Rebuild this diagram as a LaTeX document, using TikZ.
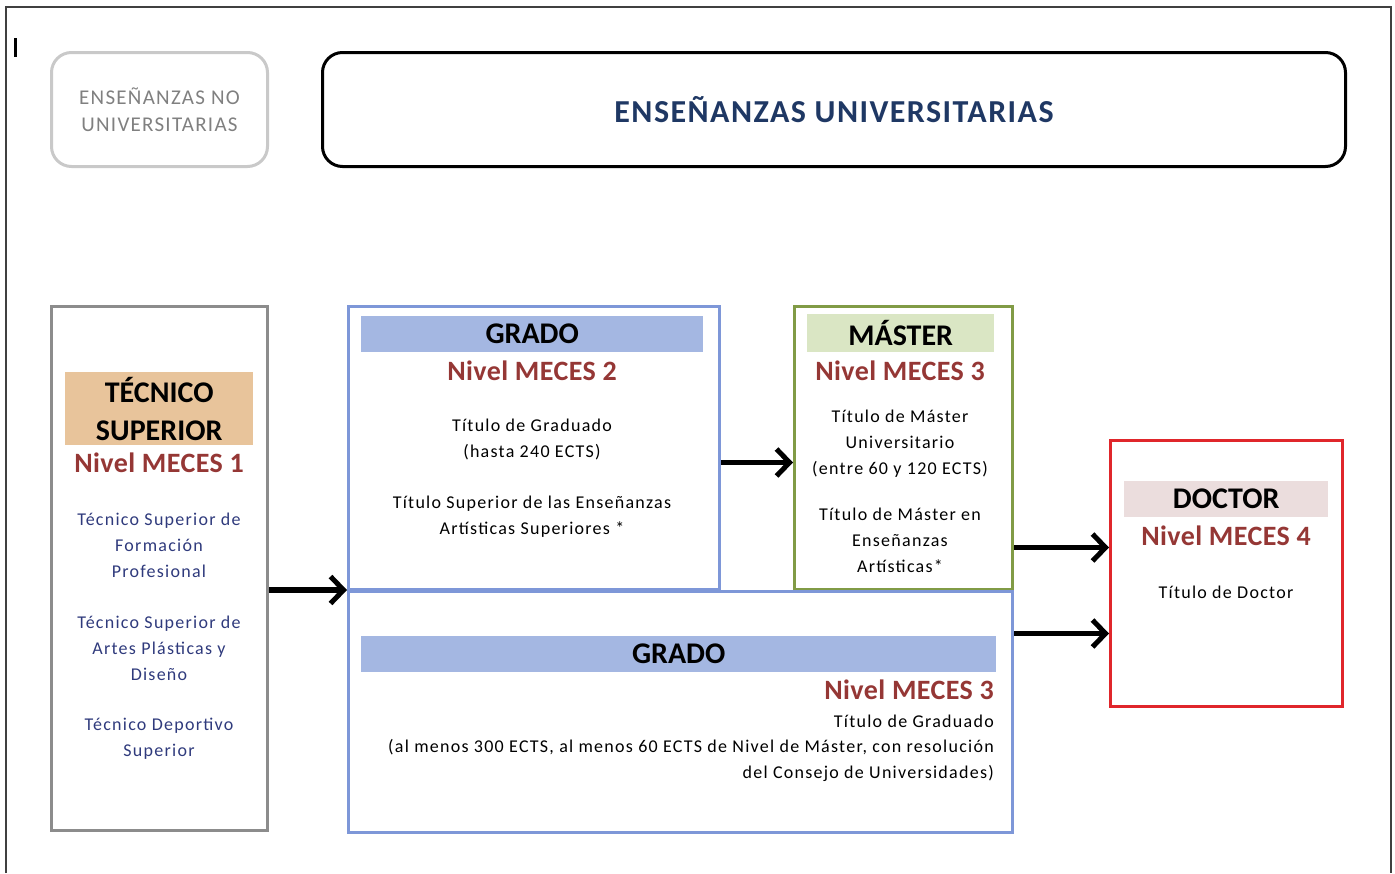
\documentclass[tikz,border=0pt]{standalone}
\usepackage{fontspec}
\setmainfont{Carlito}
\newfontfamily\bodyfont[LetterSpace=7]{Carlito}
\newfontfamily\titlefont[LetterSpace=4.5]{Carlito}
\newfontfamily\nofont[LetterSpace=6]{Carlito}
\newfontfamily\mecesfont[LetterSpace=1.5]{Carlito}
\usetikzlibrary{arrows.meta,calc}
\definecolor{nogray}{HTML}{C9C9C9}
\definecolor{notext}{HTML}{808080}
\definecolor{navy}{HTML}{1F3864}
\definecolor{tecborder}{HTML}{8C8C8C}
\definecolor{tecfill}{HTML}{E8C49B}
\definecolor{meces}{HTML}{953735}
\definecolor{bodyblue}{HTML}{2F3A7C}
\definecolor{gradoborder}{HTML}{7E97D8}
\definecolor{gradofill}{HTML}{A4B7E2}
\definecolor{masterborder}{HTML}{819B46}
\definecolor{masterfill}{HTML}{DAE6C4}
\definecolor{doctorborder}{HTML}{E0262B}
\definecolor{doctorfill}{HTML}{EBDDDD}
\begin{document}
\begin{tikzpicture}[x=1pt,y=-1pt,
  box/.style={draw, line width=3pt, inner sep=0pt, anchor=north west},
  hdr/.style={inner sep=0pt, font=\fontsize{30}{38}\selectfont\bfseries, text=black, align=center},
  meceslbl/.style={inner sep=0pt, text=meces, font=\mecesfont\fontsize{28}{30}\selectfont\bfseries},
  body/.style={inner sep=0pt, align=center, font=\bodyfont\fontsize{18}{26}\selectfont},
  arr/.style={line width=5.5pt, -{Straight Barb[length=13pt,width=27pt,line width=5pt]}}
]
\useasboundingbox (0,0) rectangle (1395,873);
% page frame
\draw[line width=1.2pt, black!75] (6,873) -- (6,7) -- (1391,7) -- (1391,873);
\draw[line width=3pt] (15,38) -- (15,57);

% top boxes
\node[box, draw=nogray, rounded corners=20pt, minimum width=216pt, minimum height=114pt] (nouni) at (50,51) {};
\node[inner sep=0pt, align=center, text=notext, font=\nofont\fontsize{21}{27}\selectfont] (nounitxt) at (nouni.center) {ENSEÑANZAS NO\\UNIVERSITARIAS};
\node[box, draw=black, rounded corners=20pt, minimum width=1023pt, minimum height=114pt] (uni) at (321,51) {};
\node[inner sep=0pt, text=navy, font=\titlefont\fontsize{32}{34}\selectfont\bfseries] (unitxt) at (uni.center) {ENSEÑANZAS UNIVERSITARIAS};

% Tecnico
\node[box, draw=tecborder, minimum width=216pt, minimum height=524pt] (tec) at (50,305) {};
\node[hdr, fill=tecfill, minimum width=188pt, minimum height=73pt, anchor=north west] (techdr) at (65,372) {TÉCNICO\\SUPERIOR};
\node[meceslbl] (tecmeces) at (159,463) {Nivel MECES 1};
\node[body, text=bodyblue] (tec1) at (159,545.5) {Técnico Superior de\\Formación\\Profesional};
\node[body, text=bodyblue] (tec2) at (159,648.5) {Técnico Superior de\\Artes Plásticas y\\Diseño};
\node[body, text=bodyblue] (tec3) at (159,739) {Técnico Deportivo\\Superior};

% Grado top
\node[box, draw=gradoborder, minimum width=371pt, minimum height=283pt] (gradoa) at (347,305) {};
\node[hdr, fill=gradofill, minimum width=342pt, minimum height=36pt, anchor=north west] (gradoahdr) at (361,316) {GRADO};
\node[meceslbl] (gradoameces) at (532,371) {Nivel MECES 2};
\node[body] (gradoa1) at (532,439) {Título de Graduado\\(hasta 240 ECTS)};
\node[body] (gradoa2) at (532,516.5) {Título Superior de las Enseñanzas\\Artísticas Superiores *};

% Master
\node[box, draw=masterborder, minimum width=218pt, minimum height=283pt] (master) at (793,305) {};
\node[hdr, fill=masterfill, minimum width=187pt, minimum height=38pt, anchor=north west] (masterhdr) at (807,314) {MÁSTER};
\node[meceslbl] (mastermeces) at (900,371) {Nivel MECES 3};
\node[body] (master1) at (900,444) {Título de Máster\\Universitario\\(entre 60 y 120 ECTS)};
\node[body] (master2) at (900,540.5) {Título de Máster en\\Enseñanzas\\Artísticas*};

% Grado bottom
\node[box, draw=gradoborder, minimum width=664pt, minimum height=241pt] (gradob) at (347,590) {};
\node[hdr, fill=gradofill, minimum width=635pt, minimum height=36pt, anchor=north west] (gradobhdr) at (361,636) {GRADO};
\node[meceslbl, anchor=east] (gradobmeces) at (994,690) {Nivel MECES 3};
\node[body, anchor=east] (gradob1) at (994,721) {Título de Graduado};
\node[body, align=right, anchor=east] (gradob2) at (994,760.5) {(al menos 300 ECTS, al menos 60 ECTS de Nivel de Máster, con resolución\\del Consejo de Universidades)};

% Doctor
\node[box, draw=doctorborder, minimum width=232pt, minimum height=266pt] (doctor) at (1109,439) {};
\node[hdr, fill=doctorfill, minimum width=204pt, minimum height=36pt, anchor=north west] (doctorhdr) at (1124,481) {DOCTOR};
\node[meceslbl] (doctormeces) at (1226,536) {Nivel MECES 4};
\node[body] (doctor1) at (1226,592) {Título de Doctor};

% arrows
\draw[arr] (tec.east |- gradob.north west) -- (gradob.north west);
\draw[arr] ([yshift=-14.5pt]gradoa.east) -- ([yshift=-14.5pt]gradoa.east -| master.west);
\draw[arr] ([yshift=-99.5pt]master.east) -- ([yshift=-99.5pt]master.east -| doctor.west);
\draw[arr] ([yshift=78.5pt]gradob.east) -- ([yshift=78.5pt]gradob.east -| doctor.west);
\end{tikzpicture}
\end{document}
